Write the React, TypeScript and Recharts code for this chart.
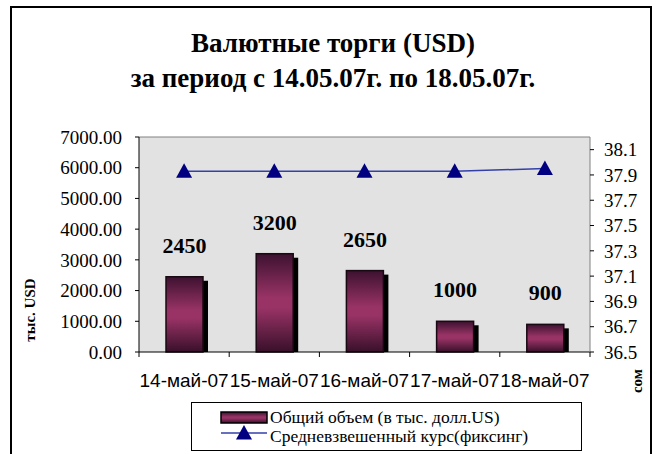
import React from 'react';
import {
  ComposedChart,
  Bar,
  Line,
  XAxis,
  YAxis,
  Legend,
  CartesianGrid,
  LabelList,
  ReferenceLine,
} from 'recharts';

// ---------- data ----------
const categories = ['14-май-07', '15-май-07', '16-май-07', '17-май-07', '18-май-07'];
const volumes = [2450, 3200, 2650, 1000, 900];
const rates = [37.93, 37.93, 37.93, 37.93, 37.95];
const volumeTicks = [0, 1000, 2000, 3000, 4000, 5000, 6000, 7000];
const rateTicks = [36.5, 36.7, 36.9, 37.1, 37.3, 37.5, 37.7, 37.9, 38.1];
const titleLines = ['Валютные торги (USD)', 'за период с 14.05.07г. по 18.05.07г.'];
const volumeName = 'Общий объем (в тыс. долл.US)';
const rateName = 'Средневзвешенный курс(фиксинг)';
const leftAxisTitle = 'тыс. USD';
const rightAxisTitle = 'сом';

const data = categories.map((c, i) => ({ date: c, volume: volumes[i], rate: rates[i] }));

const SERIF = '"Liberation Serif", "Times New Roman", serif';
const SANS = '"Liberation Sans", Arial, sans-serif';
const LINE_COLOR = '#3340a8';
const MARKER_COLOR = '#000080';

const Gradient = ({ id }: { id: string }) => (
  <linearGradient id={id} x1="0" y1="0" x2="0" y2="1">
    <stop offset="0%" stopColor="#3d1230" />
    <stop offset="45%" stopColor="#993366" />
    <stop offset="55%" stopColor="#993366" />
    <stop offset="100%" stopColor="#38102a" />
  </linearGradient>
);

const BarShape = (props: any) => {
  const { x, y, width, height } = props;
  if (!height || height <= 0) return null;
  return (
    <g>
      <rect x={x + 5} y={y + 4} width={width} height={Math.max(height - 4, 0)} fill="#000" />
      <rect
        x={x}
        y={y}
        width={width}
        height={height}
        fill="url(#barGrad)"
        stroke="#1a0812"
        strokeWidth={1.5}
      />
    </g>
  );
};

const Triangle = ({ cx, cy }: { cx: number; cy: number }) => (
  <polygon
    points={`${cx},${cy - 8} ${cx + 8},${cy + 6.5} ${cx - 8},${cy + 6.5}`}
    fill={MARKER_COLOR}
  />
);

const XTick = (props: any) => {
  const { x, y, payload, index, visibleTicksCount, width } = props;
  const count = visibleTicksCount || categories.length;
  const step = (typeof width === 'number' ? width : 451) / count;
  return (
    <g>
      <line x1={x - step / 2} y1={y} x2={x - step / 2} y2={y + 5} stroke="#000" strokeWidth={1} />
      {index === count - 1 && (
        <line x1={x + step / 2} y1={y} x2={x + step / 2} y2={y + 5} stroke="#000" strokeWidth={1} />
      )}
      <text x={x} y={y + 34.5} textAnchor="middle" fontFamily={SANS} fontSize={19} fill="#000">
        {payload.value}
      </text>
    </g>
  );
};

const LegendBox = (props: any) => {
  const payload = props.payload || [];
  const barItem = payload.find((p: any) => p.dataKey === 'volume');
  const lineItem = payload.find((p: any) => p.dataKey === 'rate');
  return (
    <div
      style={{
        width: 391,
        height: 49,
        boxSizing: 'border-box',
        border: '1px solid #000',
        background: '#fff',
        position: 'relative',
      }}
    >
      <svg width={391} height={49} style={{ position: 'absolute', left: -1, top: -1 }}>
        <defs>
          <Gradient id="legendGrad" />
        </defs>
        <rect x={30} y={10} width={46} height={11} fill="url(#legendGrad)" stroke="#000" strokeWidth={1.5} />
        <text x={79} y={21} fontFamily={SERIF} fontSize={17.5} fill="#000">
          {barItem ? barItem.value : volumeName}
        </text>
        <line x1={30} y1={31} x2={76} y2={31} stroke={LINE_COLOR} strokeWidth={1.5} />
        <Triangle cx={53} cy={31} />
        <text x={79} y={40} fontFamily={SERIF} fontSize={17.5} fill="#000">
          {lineItem ? lineItem.value : rateName}
        </text>
      </svg>
    </div>
  );
};

export default function App() {
  return (
    <div style={{ position: 'absolute', left: 0, top: 0, width: 658, height: 454, overflow: 'hidden', background: '#fff' }}>
      <div
        style={{
          position: 'absolute',
          left: 10,
          top: 6,
          width: 642,
          height: 470,
          boxSizing: 'border-box',
          border: '2px solid #000',
        }}
      />
      <div style={{ position: 'absolute', left: 0, top: 0 }}>
        <ComposedChart
          width={658}
          height={454}
          data={data}
          margin={{ top: 137, right: 8, left: 39, bottom: 52 }}
        >
          <defs>
            <Gradient id="barGrad" />
          </defs>
          <CartesianGrid horizontal={false} vertical={false} fill="#e2e2e2" stroke="none" />
          <XAxis
            dataKey="date"
            height={50}
            tickLine={false}
            tickSize={0}
            tickMargin={0}
            axisLine={{ stroke: '#000', strokeWidth: 1 }}
            tick={<XTick />}
            interval={0}
          />
          <YAxis
            width={100}
            domain={[0, 7000]}
            ticks={volumeTicks}
            interval={0}
            tickFormatter={(v: number) => v.toFixed(2)}
            tickSize={4}
            tickMargin={13}
            axisLine={{ stroke: '#000', strokeWidth: 1 }}
            tickLine={{ stroke: '#000', strokeWidth: 1 }}
            tick={{ fontFamily: SERIF, fontSize: 19, fill: '#000' }}
          />
          <YAxis
            yAxisId="right"
            orientation="right"
            width={60}
            domain={[36.5, 38.2]}
            ticks={rateTicks}
            interval={0}
            allowDataOverflow
            tickFormatter={(v: number) => v.toFixed(1)}
            tickSize={4}
            tickMargin={10}
            axisLine={{ stroke: '#808080', strokeWidth: 1 }}
            tickLine={{ stroke: '#000', strokeWidth: 1 }}
            tick={{ fontFamily: SERIF, fontSize: 19, fill: '#000' }}
          />
          <ReferenceLine y={7000} stroke="#808080" strokeWidth={1} />
          <Bar
            dataKey="volume"
            name={volumeName}
            barSize={37}
            fill="#993366"
            shape={<BarShape />}
            isAnimationActive={false}
          >
            <LabelList
              dataKey="volume"
              position="top"
              offset={24}
              fontFamily={SERIF}
              fontSize={22}
              fontWeight="bold"
              fill="#000"
            />
          </Bar>
          <Line
            yAxisId="right"
            dataKey="rate"
            name={rateName}
            stroke={LINE_COLOR}
            strokeWidth={1.5}
            dot={(p: any) => <Triangle key={`t-${p.index}`} cx={p.cx} cy={p.cy} />}
            activeDot={false}
            isAnimationActive={false}
          />
          <Legend
            layout="horizontal"
            verticalAlign="middle"
            align="center"
            width={391}
            height={49}
            wrapperStyle={{ position: 'absolute', left: 191, top: 402, width: 391, height: 49 }}
            content={<LegendBox />}
          />
        </ComposedChart>
      </div>
      <svg
        width={658}
        height={454}
        style={{ position: 'absolute', left: 0, top: 0, pointerEvents: 'none' }}
      >
        <text x={333} y={52} textAnchor="middle" fontFamily={SERIF} fontSize={27} fontWeight="bold" fill="#000">
          {titleLines[0]}
        </text>
        <text x={333} y={87} textAnchor="middle" fontFamily={SERIF} fontSize={27} fontWeight="bold" fill="#000">
          {titleLines[1]}
        </text>
        <text
          x={30}
          y={310}
          transform="rotate(-90 30 310)"
          textAnchor="middle"
          dominantBaseline="central"
          fontFamily={SERIF}
          fontSize={15}
          fontWeight="bold"
          fill="#000"
        >
          {leftAxisTitle}
        </text>
        <text
          x={637}
          y={381}
          transform="rotate(-90 637 381)"
          textAnchor="middle"
          dominantBaseline="central"
          fontFamily={SERIF}
          fontSize={15}
          fontWeight="bold"
          fill="#000"
        >
          {rightAxisTitle}
        </text>
      </svg>
    </div>
  );
}
